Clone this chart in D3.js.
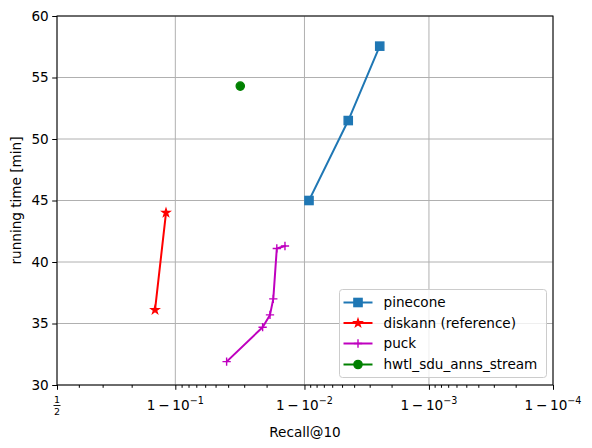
<!DOCTYPE html>
<html><head><meta charset="utf-8">
<script src="https://cdn.jsdelivr.net/npm/d3@7"></script>
<style>body{margin:0;background:#fff}svg{display:block;font-family:"DejaVu Sans",sans-serif}</style>
</head><body><svg id="c" width="592" height="448"></svg>
<script>
// ---- data ----
const seriesNames = ["pinecone", "diskann (reference)", "puck", "hwtl_sdu_anns_stream"];
const pineconeRecall = [0.9908, 0.99554, 0.99751];
const pineconeTime   = [45.0, 51.5, 57.55];
const diskannRecall  = [0.8606, 0.8833];
const diskannTime    = [36.1, 44.0];
const puckRecall     = [0.9589, 0.9785, 0.9812, 0.9823, 0.9834, 0.9857];
const puckTime       = [31.9, 34.7, 35.7, 37.0, 41.1, 41.3];
const hwtlRecall     = [0.9678];
const hwtlTime       = [54.3];
const yTicks = [30, 35, 40, 45, 50, 55, 60];
const xMajorTicks = [0.5, 0.9, 0.99, 0.999, 0.9999];
const xMajorExp = [null, -1, -2, -3, -4];

const colors = ["#1f77b4", "#ff0000", "#bf00bf", "#008000"];
const markers = ["square", "star", "plus", "circle"];
const FS = "13.6px";

const logit = p => Math.log(p / (1 - p));
const L = 57, R = 553, T = 16, B = 385;
const x = d3.scaleLinear().domain([logit(0.5), logit(0.9999)]).range([L, R]);
const y = d3.scaleLinear().domain([30, 60]).range([B, T]);

// minor ticks (logit locator style)
const xMinor = [];
[0.6, 0.7, 0.8].forEach(v => xMinor.push(v));
[0.1, 0.01, 0.001].forEach(e => { for (let k = 9; k >= 2; k--) xMinor.push(1 - k * e / 10); });

const svg = d3.select("#c");
svg.append("rect").attr("width", 592).attr("height", 448).attr("fill", "#fff");

// grid
const g = svg.append("g");
g.selectAll(".gx").data(xMajorTicks).join("line")
  .attr("x1", d => x(logit(d))).attr("x2", d => x(logit(d)))
  .attr("y1", T).attr("y2", B).attr("stroke", "#b0b0b0").attr("stroke-width", 1);
g.selectAll(".gy").data(yTicks).join("line")
  .attr("x1", L).attr("x2", R).attr("y1", d => y(d)).attr("y2", d => y(d))
  .attr("stroke", "#b0b0b0").attr("stroke-width", 1);

// axes
const xAxis = d3.axisBottom(x).tickValues(xMajorTicks.map(logit)).tickFormat("").tickSizeOuter(0).tickSizeInner(4.8);
const xAxisMinor = d3.axisBottom(x).tickValues(xMinor.map(logit)).tickFormat("").tickSizeOuter(0).tickSizeInner(2.8);
const yAxis = d3.axisLeft(y).tickValues(yTicks).tickFormat(d3.format("d")).tickSizeOuter(0).tickSizeInner(4.8).tickPadding(3.5);

function styleAxis(sel) {
  sel.select(".domain").remove();
  sel.selectAll("line").attr("stroke", "#000").attr("stroke-width", 1);
  sel.selectAll("text").attr("font-size", FS).attr("fill", "#000").attr("font-family", "DejaVu Sans");
}
svg.append("g").attr("transform", `translate(0,${B})`).call(xAxisMinor).call(styleAxis);
svg.append("g").attr("transform", `translate(0,${B})`).call(xAxis).call(styleAxis);
svg.append("g").attr("transform", `translate(${L},0)`).call(yAxis).call(styleAxis);

// x tick labels with math
xMajorTicks.forEach((v, i) => {
  const cx = x(logit(v));
  if (xMajorExp[i] === null) {
    const fg = svg.append("g").attr("font-size", "9.5px").attr("text-anchor", "middle");
    fg.append("text").attr("x", cx).attr("y", 403).text("1");
    fg.append("line").attr("x1", cx - 3.5).attr("x2", cx + 3.5).attr("y1", 405.5).attr("y2", 405.5).attr("stroke", "#000").attr("stroke-width", 0.9);
    fg.append("text").attr("x", cx).attr("y", 414.5).text("2");
  } else {
    const t = svg.append("text").attr("x", cx).attr("y", 409.5).attr("text-anchor", "middle").attr("font-size", FS);
    t.append("tspan").text("1\u2009\u2212\u200910");
    t.append("tspan").attr("dy", -5.5).attr("font-size", "9.6px").text("\u2212" + Math.abs(xMajorExp[i]));
  }
});

// frame
svg.append("rect").attr("x", L).attr("y", T).attr("width", R - L).attr("height", B - T)
  .attr("fill", "none").attr("stroke", "#000").attr("stroke-width", 1);

// labels
svg.append("text").attr("x", (L + R) / 2).attr("y", 437).attr("text-anchor", "middle").attr("font-size", FS).text("Recall@10");
svg.append("text").attr("transform", `translate(21,${(T + B) / 2}) rotate(-90)`).attr("text-anchor", "middle").attr("font-size", FS).text("running time [min]");

// markers
function starPath(Rr) {
  const ri = Rr * 0.381966; let p = "";
  for (let k = 0; k < 10; k++) {
    const r = k % 2 === 0 ? Rr : ri;
    const a = -Math.PI / 2 + k * Math.PI / 5;
    p += (k ? "L" : "M") + (r * Math.cos(a)).toFixed(2) + "," + (r * Math.sin(a)).toFixed(2);
  }
  return p + "Z";
}
function drawMarker(sel, type, color) {
  const h = 4.15;
  if (type === "square") sel.append("rect").attr("x", -h).attr("y", -h).attr("width", 2 * h).attr("height", 2 * h).attr("fill", color).attr("stroke", color).attr("stroke-width", 1.3);
  else if (type === "star") sel.append("path").attr("d", starPath(4.3)).attr("fill", color).attr("stroke", color).attr("stroke-width", 1.2).attr("stroke-linejoin", "miter");
  else if (type === "plus") sel.append("path").attr("d", `M${-h},0H${h}M0,${-h}V${h}`).attr("stroke", color).attr("stroke-width", 1.4);
  else sel.append("circle").attr("r", h).attr("fill", color).attr("stroke", color).attr("stroke-width", 1.3);
}

const series = [
  { r: pineconeRecall, t: pineconeTime },
  { r: diskannRecall, t: diskannTime },
  { r: puckRecall, t: puckTime },
  { r: hwtlRecall, t: hwtlTime }
];
const line = d3.line().x(d => x(logit(d[0]))).y(d => y(d[1]));
const plot = svg.append("g");
series.forEach((s, i) => {
  const pts = s.r.map((r, j) => [r, s.t[j]]);
  if (pts.length > 1) plot.append("path").attr("d", line(pts)).attr("fill", "none").attr("stroke", colors[i]).attr("stroke-width", 2).attr("stroke-linejoin", "round").attr("stroke-linecap", "square");
  pts.forEach(p => {
    const mg = plot.append("g").attr("transform", `translate(${x(logit(p[0]))},${y(p[1])})`);
    drawMarker(mg, markers[i], colors[i]);
  });
});

// legend
const lg = svg.append("g");
lg.append("rect").attr("x", 339.5).attr("y", 289.5).attr("width", 207).attr("height", 88).attr("rx", 3)
  .attr("fill", "#fff").attr("fill-opacity", 0.8).attr("stroke", "#cccccc").attr("stroke-width", 1);
const rowY = [302.5, 323, 343.5, 364.5];
seriesNames.forEach((n, i) => {
  lg.append("line").attr("x1", 343.5).attr("x2", 372.5).attr("y1", rowY[i]).attr("y2", rowY[i]).attr("stroke", colors[i]).attr("stroke-width", 2);
  const mg = lg.append("g").attr("transform", `translate(358,${rowY[i]})`);
  drawMarker(mg, markers[i], colors[i]);
  lg.append("text").attr("x", 383.5).attr("y", rowY[i]).attr("dy", "0.36em").attr("font-size", FS).text(n);
});
</script></body></html>
